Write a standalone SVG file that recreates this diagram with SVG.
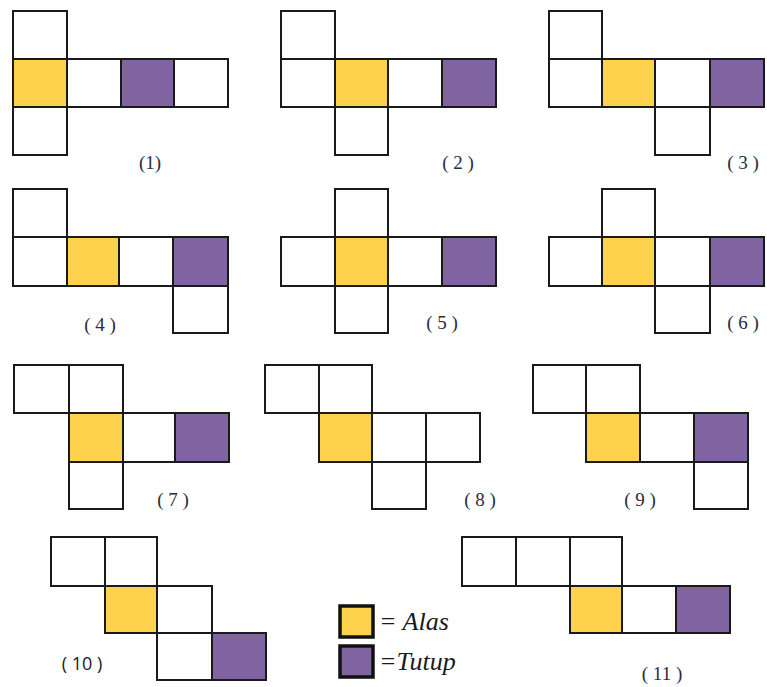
<svg xmlns="http://www.w3.org/2000/svg" width="767" height="687" viewBox="0 0 767 687">
<style>
.c{fill:#fff;stroke:#1a1a1a;stroke-width:2}
.y{fill:#FED24C}
.p{fill:#8064A2}
.lb{font-size:19px;fill:#2b2b3c;text-anchor:middle}
.ls{font-size:18px;fill:#1a1a1a;text-anchor:middle}
.lg{font-size:26px;font-style:italic;fill:#1a1a1a}
.k{stroke:#111;stroke-width:3.5}
</style>
<rect width="767" height="687" fill="#fff"/>
<g id="net1">
<rect class="c" x="13" y="11" width="54" height="48"/>
<rect class="c y" x="13" y="59" width="54" height="48"/>
<rect class="c" x="67" y="59" width="54" height="48"/>
<rect class="c p" x="121" y="59" width="53" height="48"/>
<rect class="c" x="174" y="59" width="54" height="48"/>
<rect class="c" x="13" y="107" width="54" height="48"/>
<text class="lb" font-family="Liberation Serif, DejaVu Serif, serif" x="150" y="169">(1)</text>
</g>
<g id="net2">
<rect class="c" x="281" y="11" width="54" height="48"/>
<rect class="c" x="281" y="59" width="54" height="48"/>
<rect class="c y" x="335" y="59" width="53" height="48"/>
<rect class="c" x="388" y="59" width="54" height="48"/>
<rect class="c p" x="442" y="59" width="54" height="48"/>
<rect class="c" x="335" y="107" width="53" height="48"/>
<text class="lb" font-family="Liberation Serif, DejaVu Serif, serif" x="458" y="169">( 2 )</text>
</g>
<g id="net3">
<rect class="c" x="549" y="11" width="53" height="48"/>
<rect class="c" x="549" y="59" width="53" height="48"/>
<rect class="c y" x="602" y="59" width="53" height="48"/>
<rect class="c" x="655" y="59" width="55" height="48"/>
<rect class="c p" x="710" y="59" width="54" height="48"/>
<rect class="c" x="655" y="107" width="55" height="48"/>
<text class="lb" font-family="Liberation Serif, DejaVu Serif, serif" x="743" y="169">( 3 )</text>
</g>
<g id="net4">
<rect class="c" x="13" y="189" width="54" height="48"/>
<rect class="c" x="13" y="237" width="54" height="49"/>
<rect class="c y" x="67" y="237" width="52" height="49"/>
<rect class="c" x="119" y="237" width="54" height="49"/>
<rect class="c p" x="173" y="237" width="55" height="49"/>
<rect class="c" x="173" y="286" width="55" height="47"/>
<text class="lb" font-family="Liberation Serif, DejaVu Serif, serif" x="100" y="331">( 4 )</text>
</g>
<g id="net5">
<rect class="c" x="335" y="189" width="53" height="48"/>
<rect class="c" x="281" y="237" width="54" height="49"/>
<rect class="c y" x="335" y="237" width="53" height="49"/>
<rect class="c" x="388" y="237" width="54" height="49"/>
<rect class="c p" x="442" y="237" width="54" height="49"/>
<rect class="c" x="335" y="286" width="53" height="47"/>
<text class="lb" font-family="Liberation Serif, DejaVu Serif, serif" x="442" y="329">( 5 )</text>
</g>
<g id="net6">
<rect class="c" x="602" y="189" width="53" height="48"/>
<rect class="c" x="549" y="237" width="53" height="49"/>
<rect class="c y" x="602" y="237" width="53" height="49"/>
<rect class="c" x="655" y="237" width="55" height="49"/>
<rect class="c p" x="710" y="237" width="54" height="49"/>
<rect class="c" x="655" y="286" width="55" height="47"/>
<text class="lb" font-family="Liberation Serif, DejaVu Serif, serif" x="743" y="329">( 6 )</text>
</g>
<g id="net7">
<rect class="c" x="14" y="365" width="55" height="48"/>
<rect class="c" x="69" y="365" width="54" height="48"/>
<rect class="c y" x="69" y="413" width="54" height="49"/>
<rect class="c" x="123" y="413" width="52" height="49"/>
<rect class="c p" x="175" y="413" width="54" height="49"/>
<rect class="c" x="69" y="462" width="54" height="47"/>
<text class="lb" font-family="Liberation Serif, DejaVu Serif, serif" x="173" y="506">( 7 )</text>
</g>
<g id="net8">
<rect class="c" x="265" y="365" width="54" height="48"/>
<rect class="c" x="319" y="365" width="53" height="48"/>
<rect class="c y" x="319" y="413" width="53" height="49"/>
<rect class="c" x="372" y="413" width="54" height="49"/>
<rect class="c" x="426" y="413" width="54" height="49"/>
<rect class="c" x="372" y="462" width="54" height="47"/>
<text class="lb" font-family="Liberation Serif, DejaVu Serif, serif" x="480" y="506">( 8 )</text>
</g>
<g id="net9">
<rect class="c" x="533" y="365" width="53" height="48"/>
<rect class="c" x="586" y="365" width="54" height="48"/>
<rect class="c y" x="586" y="413" width="54" height="49"/>
<rect class="c" x="640" y="413" width="54" height="49"/>
<rect class="c p" x="694" y="413" width="54" height="49"/>
<rect class="c" x="694" y="462" width="54" height="47"/>
<text class="lb" font-family="Liberation Serif, DejaVu Serif, serif" x="640" y="506">( 9 )</text>
</g>
<g id="net10">
<rect class="c" x="51" y="537" width="54" height="49"/>
<rect class="c" x="105" y="537" width="52" height="49"/>
<rect class="c y" x="105" y="586" width="52" height="47"/>
<rect class="c" x="157" y="586" width="55" height="47"/>
<rect class="c" x="157" y="633" width="55" height="47"/>
<rect class="c p" x="212" y="633" width="54" height="47"/>
<text class="ls" font-family="Open Sans, Liberation Sans, sans-serif" x="82" y="670">( 10 )</text>
</g>
<g id="net11">
<rect class="c" x="462" y="537" width="54" height="49"/>
<rect class="c" x="516" y="537" width="54" height="49"/>
<rect class="c" x="570" y="537" width="52" height="49"/>
<rect class="c y" x="570" y="586" width="52" height="47"/>
<rect class="c" x="622" y="586" width="54" height="47"/>
<rect class="c p" x="676" y="586" width="54" height="47"/>
<text class="lb" font-family="Liberation Serif, DejaVu Serif, serif" x="662" y="680">( 11 )</text>
</g>
<g id="legend">
<rect class="k y" x="340" y="606" width="33" height="31"/>
<rect class="k p" x="340" y="646" width="33" height="31"/>
<text class="lg" font-family="Liberation Serif, DejaVu Serif, serif" x="379" y="630">= Alas</text>
<text class="lg" font-family="Liberation Serif, DejaVu Serif, serif" x="379" y="670">=Tutup</text>
</g>
<g id="connectors"/>
</svg>
